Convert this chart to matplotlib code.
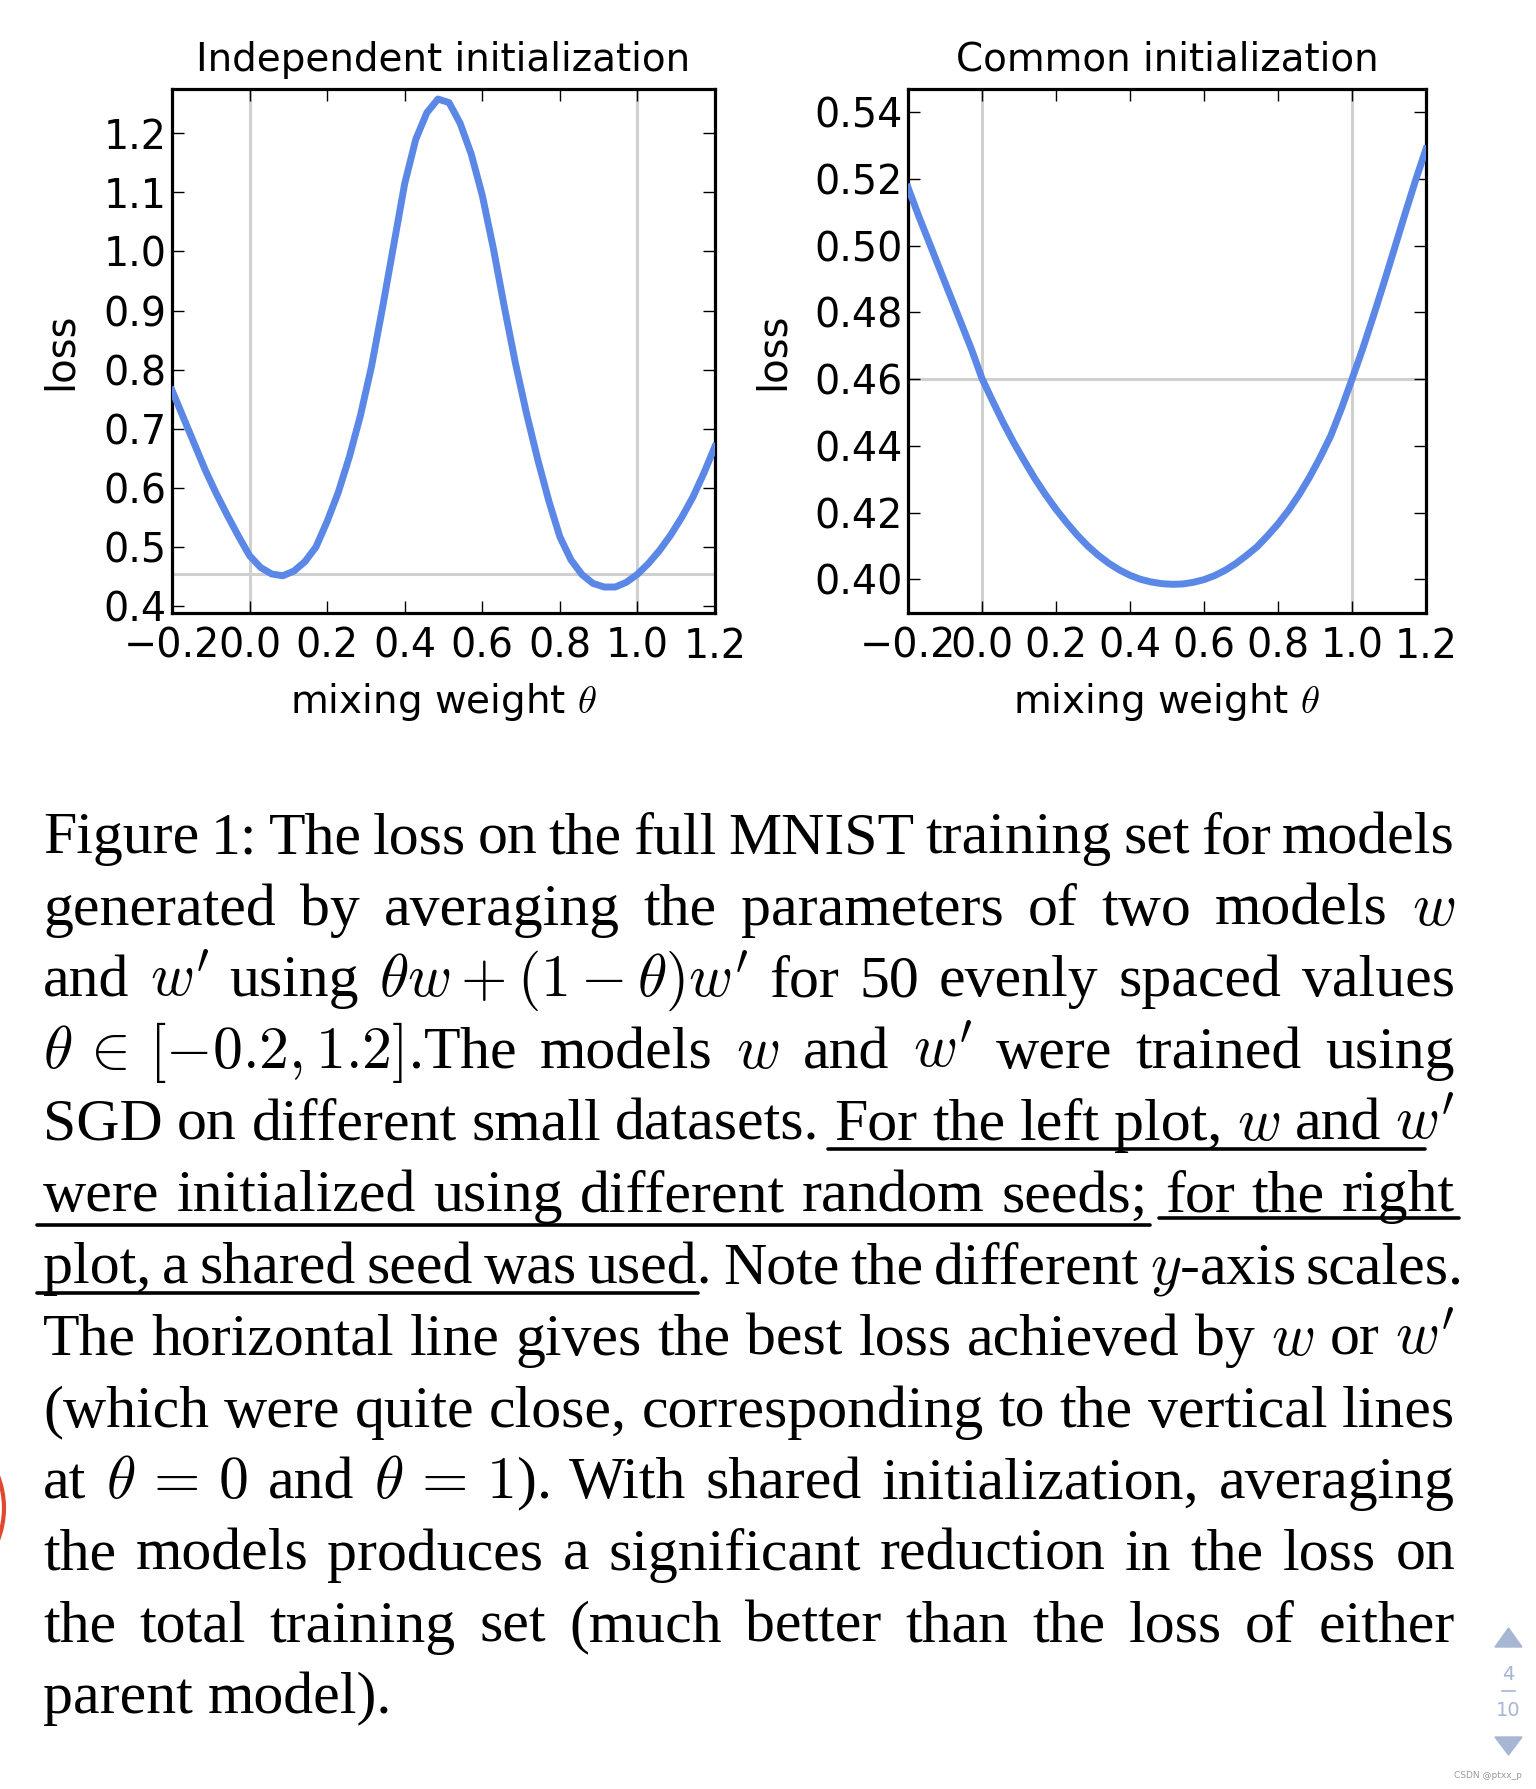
import numpy as np
import matplotlib
matplotlib.use("Agg")
import matplotlib.pyplot as plt
from matplotlib.patches import Circle, Polygon
from matplotlib.lines import Line2D
from matplotlib.transforms import Bbox

plt.rcParams['mathtext.fontset'] = 'cm'
plt.rcParams['font.family'] = ['DejaVu Sans']

# ---------------- data ----------------
theta = np.linspace(-0.2, 1.2, 50)   # 50 evenly spaced mixing weights

loss_independent = [
    0.765, 0.720, 0.675, 0.630, 0.590, 0.553, 0.518, 0.485, 0.465, 0.454,
    0.451, 0.459, 0.475, 0.500, 0.543, 0.592, 0.652, 0.722, 0.805, 0.905,
    1.010, 1.115, 1.190, 1.235, 1.258, 1.252, 1.217, 1.165, 1.095, 1.005,
    0.905, 0.810, 0.725, 0.648, 0.578, 0.517, 0.478, 0.453, 0.438, 0.432,
    0.432, 0.440, 0.4535, 0.472, 0.494, 0.520, 0.550, 0.584, 0.625, 0.670,
]
loss_common = [
    0.5175, 0.509, 0.501, 0.493, 0.485, 0.477, 0.469, 0.4602, 0.4535, 0.447,
    0.441, 0.4355, 0.4302, 0.4254, 0.421, 0.417, 0.4133, 0.410, 0.4072, 0.4048,
    0.4028, 0.4012, 0.4000, 0.3992, 0.3987, 0.3985, 0.3986, 0.3991, 0.3999, 0.4011,
    0.4027, 0.4047, 0.4071, 0.4097, 0.4130, 0.4166, 0.4207, 0.4254, 0.4307, 0.4366,
    0.4431, 0.4512, 0.4600, 0.4690, 0.4787, 0.4887, 0.4990, 0.5094, 0.5195, 0.5290,
]
best_independent = 0.4535
best_common = 0.4600

titles = ["Independent initialization", "Common initialization"]
xticks = [-0.2, 0.0, 0.2, 0.4, 0.6, 0.8, 1.0, 1.2]
yticks_independent = [0.4, 0.5, 0.6, 0.7, 0.8, 0.9, 1.0, 1.1, 1.2]
yticks_common = [0.40, 0.42, 0.44, 0.46, 0.48, 0.50, 0.52, 0.54]
ylims = [(0.388, 1.275), (0.3899, 0.547)]

caption_lines = [
    "Figure 1: The loss on the full MNIST training set for models",
    r"generated by averaging the parameters of two models $w$",
    r"and $w'$ using ${\theta}w+(1-\theta)w'$ for 50 evenly spaced values",
    r"$\theta\,\in\,[-0.2,1.2]$.The models $w$ and $w'$ were trained using",
    r"SGD on different small datasets. For the left plot, $w$ and $w'$",
    "were initialized using different random seeds; for the right",
    r"plot, a shared seed was used. Note the different $y$-axis scales.",
    r"The horizontal line gives the best loss achieved by $w$ or $w'$",
    "(which were quite close, corresponding to the vertical lines",
    r"at $\theta\,=\,0$ and $\theta\,=\,1$). With shared initialization, averaging",
    "the models produces a significant reduction in the loss on",
    "the total training set (much better than the loss of either",
    "parent model).",
]
# underlined spans: (line index, first token, last token, offset px, end trim px)
underlines = [(4, 5, 11, 9, -30), (5, 0, 5, 13, 2), (5, 6, 8, 6, 4), (6, 0, 5, 10, -14)]

# ---------------- figure ----------------
W, H = 1536, 1789
fig = plt.figure(figsize=(W / 100, H / 100), dpi=100)
fig.patch.set_facecolor('white')

BLUE = '#5b88e6'
GRID = '#d0d0d0'
FS_TICK = 28.5
FS_LAB = 28

ax1 = fig.add_axes([172 / W, 1 - 613 / H, 543 / W, 524 / H])
ax2 = fig.add_axes([908 / W, 1 - 613 / H, 518 / W, 524 / H])

series = [(ax1, loss_independent, best_independent, yticks_independent),
          (ax2, loss_common, best_common, yticks_common)]
for k, (ax, loss, best, yt) in enumerate(series):
    ax.axvline(0.0, color=GRID, lw=2.2, zorder=1)
    ax.axvline(1.0, color=GRID, lw=2.2, zorder=1)
    ax.axhline(best, color=GRID, lw=2.2, zorder=1)
    ax.plot(theta, loss, color=BLUE, lw=5, zorder=3)
    ax.set_xlim(-0.2, 1.2)
    ax.set_ylim(*ylims[k])
    ax.set_xticks(xticks)
    ax.set_yticks(yt)
    if k == 0:
        ax.set_yticklabels([f"{v:.1f}" for v in yt])
    else:
        ax.set_yticklabels([f"{v:.2f}" for v in yt])
    ax.set_xticklabels([f"{v:.1f}".replace('-', '\u2212') for v in xticks])
    ax.tick_params(direction='in', length=8.5, width=1.0, top=True, right=True,
                   labelsize=FS_TICK, colors='black')
    ax.tick_params(axis='x', pad=10)
    ax.tick_params(axis='y', pad=4)
    for s in ax.spines.values():
        s.set_linewidth(2.3)
    ax.set_title(titles[k], fontsize=FS_LAB, pad=13)
    ax.set_xlabel(r"mixing weight $\theta$", fontsize=FS_LAB, labelpad=10)
    ax.set_ylabel("loss", fontsize=FS_LAB + 1)

ax1.yaxis.set_label_coords(-0.168, 0.5)
ax2.yaxis.set_label_coords(-0.222, 0.5)

# ---------------- caption (justified) ----------------
fig.canvas.draw()
r = fig.canvas.get_renderer()

# the last x tick label of each panel is cut off at the panel's right border
for ax, cut in ((ax1, 742), (ax2, 1455)):
    lab = ax.xaxis.get_major_ticks()[-1].label1
    lab.set_clip_box(Bbox([[0, 0], [cut, H]]))
    lab.set_clip_on(True)

CFS = 43
left_px, right_px = 43, 1455
base0, step = 853, 71.7
tok_boxes = {}
for i, line in enumerate(caption_lines):
    toks = line.split(' ')
    y = 1 - (base0 + i * step) / H
    texts = [fig.text(0, y, t, fontsize=CFS, family=['Liberation Serif', 'DejaVu Serif'],
                      va='baseline', ha='left', color='black') for t in toks]
    widths = [t.get_window_extent(r).width for t in texts]
    rp = 1464 if i == 6 else right_px
    if i == len(caption_lines) - 1:
        gap = 0.25 * CFS * 100 / 72
    else:
        gap = (rp - left_px - sum(widths)) / (len(toks) - 1)
    x = left_px
    for j, (t, w) in enumerate(zip(texts, widths)):
        t.set_x(x / W)
        tok_boxes[(i, j)] = (x, x + w)
        x += w + gap

for (li, a, b, off, trim) in underlines:
    x0 = tok_boxes[(li, a)][0] - 6
    x1 = tok_boxes[(li, b)][1] + trim
    yb = base0 + li * step + off
    fig.add_artist(Line2D([x0 / W, x1 / W], [1 - yb / H, 1 - yb / H],
                          transform=fig.transFigure, color='black', lw=2.6,
                          solid_capstyle='round'))

# ---------------- page indicator / watermark ----------------
PAGE = '#a7b6d3'
fig.add_artist(Polygon([[1495 / W, 1 - 1647 / H], [1522 / W, 1 - 1647 / H],
                        [1508.5 / W, 1 - 1628 / H]], closed=True,
                       transform=fig.transFigure, color=PAGE))
fig.add_artist(Polygon([[1495 / W, 1 - 1737 / H], [1522 / W, 1 - 1737 / H],
                        [1508.5 / W, 1 - 1755 / H]], closed=True,
                       transform=fig.transFigure, color=PAGE))
fig.text(1508 / W, 1 - 1674 / H, "4", fontsize=14, color=PAGE, ha='center', va='center')
fig.add_artist(Line2D([1502 / W, 1515 / W], [1 - 1691 / H, 1 - 1691 / H],
                      transform=fig.transFigure, color=PAGE, lw=1.2))
fig.text(1508 / W, 1 - 1711 / H, "10", fontsize=14, color=PAGE, ha='center', va='center')
fig.text(1522 / W, 1 - 1775 / H, "CSDN @ptxx_p", fontsize=6.5, color='#9a9a9a',
         ha='right', va='center')
fig.add_artist(Circle((-84 / 100, (H - 1508) / 100), 0.88, transform=fig.dpi_scale_trans,
                      fill=False, ec='#e0482f', lw=3))

fig.savefig("out.png", dpi=100)
